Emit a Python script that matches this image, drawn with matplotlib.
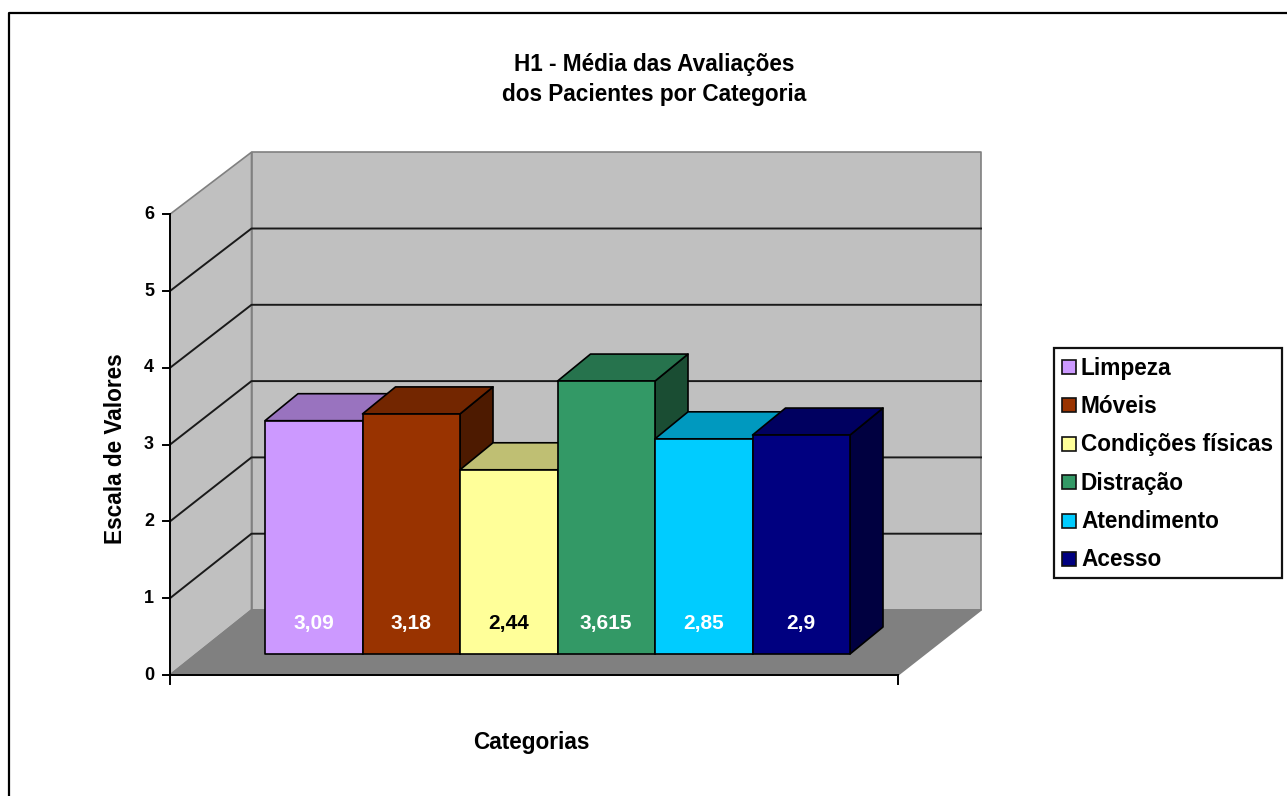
import matplotlib.pyplot as plt
from matplotlib.patches import Polygon, Rectangle
from matplotlib.colors import to_rgb

categories = ['Limpeza', 'Móveis', 'Condições físicas', 'Distração', 'Atendimento', 'Acesso']
values = [3.09, 3.18, 2.44, 3.615, 2.85, 2.9]
value_labels = ['3,09', '3,18', '2,44', '3,615', '2,85', '2,9']
label_colors = ['white', 'white', 'black', 'white', 'white', 'white']
colors = ['#CC99FF', '#993300', '#FFFF99', '#339966', '#00CCFF', '#000080']
y_ticks = [0, 1, 2, 3, 4, 5, 6]

title_lines = ['H1 - Média das Avaliações', 'dos Pacientes por Categoria']
x_title = 'Categorias'
y_title = 'Escala de Valores'

# layout of the fake 3d box, in image pixels
W, H = 1287, 796
FRONT_LEFT, FRONT_RIGHT = 170, 898
FRONT_ZERO = 675
UNIT = 76.8
BACK_LEFT, BACK_RIGHT = 251.5, 981
BACK_ZERO = 610
BACK_UNIT = 76.3
BAR_LEFT, BAR_RIGHT = 265, 850
BAR_BASE = 654
BAR_UNIT = 75.5
BAR_DX, BAR_DY = 33, -27

plt.rcParams['font.family'] = ['Liberation Sans', 'DejaVu Sans']
plt.rcParams['font.weight'] = 'bold'


def shade(color, k):
    return tuple(c * k for c in to_rgb(color))


def front_y(v):
    return FRONT_ZERO - v * UNIT


def back_y(v):
    return BACK_ZERO - v * BACK_UNIT


def poly(ax, pts, fc, ec='black', lw=1.2, z=2):
    ax.add_patch(Polygon(pts, closed=True, facecolor=fc, edgecolor=ec, linewidth=lw,
                         joinstyle='round', zorder=z))


def draw_box(ax):
    vmax = max(y_ticks)
    # side wall, back wall, floor
    poly(ax, [(FRONT_LEFT, FRONT_ZERO), (BACK_LEFT, BACK_ZERO),
              (BACK_LEFT, back_y(vmax)), (FRONT_LEFT, front_y(vmax))], '#C0C0C0', '#808080')
    poly(ax, [(BACK_LEFT, BACK_ZERO), (BACK_RIGHT, BACK_ZERO),
              (BACK_RIGHT, back_y(vmax)), (BACK_LEFT, back_y(vmax))], '#C0C0C0', '#808080')
    poly(ax, [(FRONT_LEFT, FRONT_ZERO), (FRONT_RIGHT, FRONT_ZERO),
              (BACK_RIGHT, BACK_ZERO), (BACK_LEFT, BACK_ZERO)], '#808080', '#808080')

    for v in y_ticks[1:-1]:
        ax.plot([FRONT_LEFT, BACK_LEFT, BACK_RIGHT],
                [front_y(v), back_y(v), back_y(v)], color='#1a1a1a', lw=1.4, zorder=3)

    # axes
    ax.plot([FRONT_LEFT, FRONT_LEFT], [front_y(vmax), FRONT_ZERO + 9], color='black', lw=1.4, zorder=3)
    ax.plot([FRONT_LEFT, FRONT_RIGHT], [FRONT_ZERO, FRONT_ZERO], color='black', lw=1.4, zorder=3)
    ax.plot([FRONT_RIGHT, FRONT_RIGHT], [FRONT_ZERO, FRONT_ZERO + 9], color='black', lw=1.4, zorder=3)
    for v in y_ticks:
        y = front_y(v)
        ax.plot([FRONT_LEFT - 7, FRONT_LEFT], [y, y], color='black', lw=1.4, zorder=3)
        ax.text(FRONT_LEFT - 21, y, str(v), ha='center', va='center', fontsize=13)


def draw_bars(ax):
    width = (BAR_RIGHT - BAR_LEFT) / len(values)
    for i, (v, c) in enumerate(zip(values, colors)):
        x0 = BAR_LEFT + i * width
        x1 = x0 + width
        y = BAR_BASE - v * BAR_UNIT
        z = 4 + i
        poly(ax, [(x1, BAR_BASE), (x1 + BAR_DX, BAR_BASE + BAR_DY),
                  (x1 + BAR_DX, y + BAR_DY), (x1, y)], shade(c, 0.5), z=z)
        poly(ax, [(x0, y), (x1, y), (x1 + BAR_DX, y + BAR_DY), (x0 + BAR_DX, y + BAR_DY)],
             shade(c, 0.75), z=z)
        poly(ax, [(x0, BAR_BASE), (x1, BAR_BASE), (x1, y), (x0, y)], c, z=z)
        ax.text((x0 + x1) / 2, BAR_BASE - 30, value_labels[i], color=label_colors[i],
                ha='center', va='center', fontsize=15, zorder=20)


def draw_legend(ax):
    ax.add_patch(Rectangle((1054, 348), 228, 230, facecolor='white', edgecolor='#111111', lw=1.6))
    step = 38.4
    for i, (name, c) in enumerate(zip(categories, colors)):
        y = 367 + i * step
        ax.add_patch(Rectangle((1062, y - 7), 14, 14, facecolor=c, edgecolor='#111111', lw=1.2))
        ax.text(1081, y + 1, name, ha='left', va='center', fontsize=16.3)


def main():
    fig = plt.figure(figsize=(W / 100, H / 100), dpi=100)
    ax = fig.add_axes([0, 0, 1, 1])
    ax.set_xlim(0, W)
    ax.set_ylim(H, 0)
    ax.axis('off')

    # chart area border, only top and left show in the picture
    ax.plot([8.5, 8.5, W], [H, 12.5, 12.5], color='black', lw=1.6)

    draw_box(ax)
    draw_bars(ax)
    draw_legend(ax)

    ax.text(654, 64, title_lines[0], ha='center', va='center', fontsize=16.3)
    ax.text(654, 94, title_lines[1], ha='center', va='center', fontsize=16.3)
    ax.text(531, 743, x_title, ha='center', va='center', fontsize=16.3)
    ax.text(115, 449, y_title, ha='center', va='center', rotation=90, fontsize=16.3)

    fig.savefig('out.png', dpi=100)


if __name__ == '__main__':
    main()
